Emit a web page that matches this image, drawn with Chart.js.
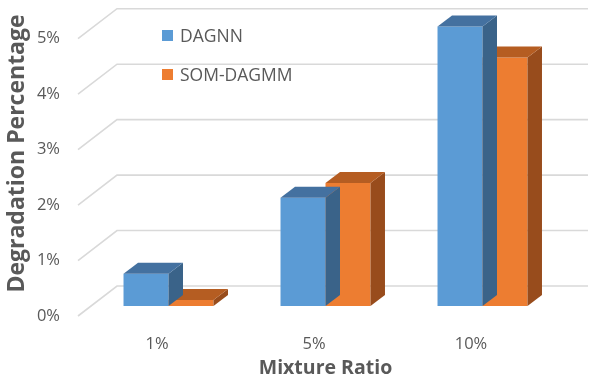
<!DOCTYPE html>
<html>
<head>
<meta charset="utf-8">
<script src="https://cdn.jsdelivr.net/npm/chart.js@4/dist/chart.umd.min.js"></script>
<style>
  html, body { margin: 0; padding: 0; background: #ffffff; }
  #wrap { position: relative; width: 593px; height: 376px; }
  canvas { display: block; }
  .lg { position: absolute; left: 162px; font-family: "Open Sans", sans-serif; font-size: 17.5px; color: #595959; line-height: 20px; white-space: nowrap; }
  .lg span.sw { position: absolute; left: 0; top: 4px; width: 11px; height: 11px; }
  .lg span.tx { position: absolute; left: 18px; top: -1px; }
</style>
</head>
<body>
<div id="wrap">
  <canvas id="c" width="593" height="376"></canvas>
</div>
<script>
// ---- data ----
const categories = ['1%', '5%', '10%'];
const dagnn = [0.58, 1.95, 5.04];
const somDagmm = [0.11, 2.22, 4.48];
const yTickValues = [0, 1, 2, 3, 4, 5];
const seriesNames = ['DAGNN', 'SOM-DAGMM'];
const xTitle = 'Mixture Ratio';
const yTitle = 'Degradation Percentage';

// ---- 3D look ----
const DEPTH = { dx: 14.5, dy: -11 };
const GRID = { frontDx: -12, frontDy: 10, backDx: 27, backDy: -20 };

const gridPlugin = {
  id: 'wallGrid',
  beforeDatasetsDraw(chart) {
    const ys = chart.scales.y, ca = chart.chartArea, ctx = chart.ctx;
    ctx.save();
    ctx.strokeStyle = '#d9d9d9';
    ctx.lineWidth = 1.6;
    ys.ticks.forEach(t => {
      const py = ys.getPixelForValue(t.value);
      ctx.beginPath();
      ctx.moveTo(ca.left + GRID.frontDx, py + GRID.frontDy);
      ctx.lineTo(ca.left + GRID.backDx, py + GRID.backDy);
      ctx.lineTo(ca.right + GRID.backDx, py + GRID.backDy);
      ctx.stroke();
    });
    ctx.restore();
  }
};

const boxPlugin = {
  id: 'box3d',
  afterDatasetDraw(chart, args) {
    const ctx = chart.ctx;
    const ds = chart.data.datasets[args.index];
    const { dx, dy } = DEPTH;
    ctx.save();
    args.meta.data.forEach(bar => {
      const p = bar.getProps(['x', 'y', 'base', 'width'], true);
      const l = p.x - p.width / 2, r = p.x + p.width / 2;
      ctx.fillStyle = ds.sideColor;
      ctx.beginPath();
      ctx.moveTo(r, p.y); ctx.lineTo(r + dx, p.y + dy);
      ctx.lineTo(r + dx, p.base + dy); ctx.lineTo(r, p.base);
      ctx.closePath(); ctx.fill();
      ctx.fillStyle = ds.topColor;
      ctx.beginPath();
      ctx.moveTo(l, p.y); ctx.lineTo(l + dx, p.y + dy);
      ctx.lineTo(r + dx, p.y + dy); ctx.lineTo(r, p.y);
      ctx.closePath(); ctx.fill();
    });
    ctx.restore();
  }
};

const chart = new Chart(document.getElementById('c'), {
  type: 'bar',
  data: {
    labels: categories,
    datasets: [
      { label: seriesNames[0], data: dagnn, backgroundColor: '#5b9bd5', topColor: '#4471a0', sideColor: '#3a6389',
        barPercentage: 1, categoryPercentage: 0.573 },
      { label: seriesNames[1], data: somDagmm, backgroundColor: '#ed7d31', topColor: '#b55d22', sideColor: '#984c1c',
        barPercentage: 1, categoryPercentage: 0.573 }
    ]
  },
  options: {
    responsive: false,
    animation: false,
    devicePixelRatio: 1,
    layout: { padding: { top: 1, right: 32, left: 0, bottom: 0 } },
    plugins: { legend: { display: false }, tooltip: { enabled: false } },
    scales: {
      x: {
        grid: { display: false, drawTicks: false },
        border: { display: false },
        ticks: { color: '#595959', font: { family: 'Open Sans', size: 16.5 }, padding: 28, labelOffset: -11.5 },
        title: { display: true, text: xTitle, color: '#595959', font: { family: 'Open Sans', size: 19.5, weight: 'bold' }, padding: { top: 0, bottom: -4 } },
        afterFit(s) { s.height = 70; s.paddingLeft = 0; s.paddingRight = 0; }
      },
      y: {
        min: 0, max: 5.5,
        bounds: 'data',
        grid: { display: false, drawTicks: false },
        border: { display: false },
        afterBuildTicks(s) { s.ticks = yTickValues.map(v => ({ value: v })); },
        ticks: { color: '#595959', font: { family: 'Open Sans', size: 16.5 }, padding: 30, labelOffset: 10,
                 callback: v => v + '%' },
        title: { display: true, text: yTitle, color: '#595959', font: { family: 'Open Sans', size: 23, weight: 'bold' }, padding: { top: 4, bottom: 0 } },
        afterFit(s) { s.width = 90; s.paddingTop = 0; s.paddingBottom = 0; }
      }
    }
  },
  plugins: [gridPlugin, boxPlugin]
});

// legend built from the chart's datasets
const wrap = document.getElementById('wrap');
const legendTops = [26, 65];
chart.data.datasets.forEach((ds, i) => {
  const item = document.createElement('div');
  item.className = 'lg';
  item.style.top = legendTops[i] + 'px';
  const sw = document.createElement('span');
  sw.className = 'sw';
  sw.style.background = ds.backgroundColor;
  const tx = document.createElement('span');
  tx.className = 'tx';
  tx.textContent = ds.label;
  item.appendChild(sw); item.appendChild(tx);
  wrap.appendChild(item);
});
</script>
</body>
</html>
